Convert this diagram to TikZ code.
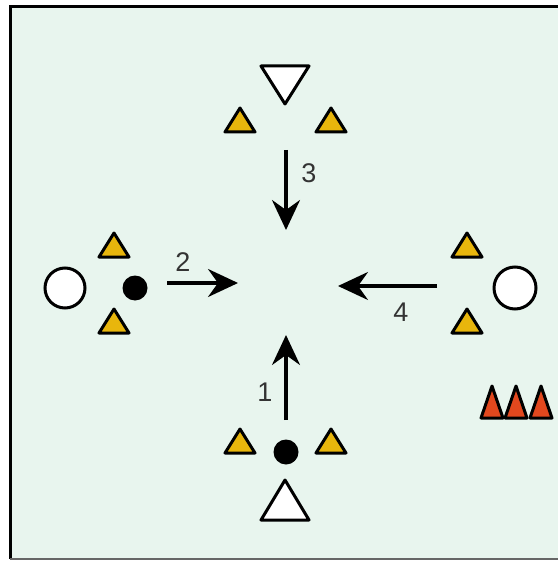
\documentclass[tikz,border=0pt]{standalone}
\usepackage{fontspec}
\setmainfont{Liberation Sans}
\usetikzlibrary{arrows.meta}
\definecolor{bgc}{HTML}{E8F5EE}
\definecolor{cone}{HTML}{E8B60C}
\definecolor{redcone}{HTML}{E2481E}
\definecolor{lbl}{HTML}{333333}
\begin{document}
\begin{tikzpicture}[x=1pt,y=-1pt,
  shapeline/.style={draw=black,line width=3pt,line join=round},
  run/.style={line width=3.2pt,-{Stealth[length=30pt,width=28pt,inset=10pt]}},
  lab/.style={text=lbl,font=\fontsize{27}{27}\selectfont,inner sep=0pt},
  pics/ycone/.style={code={\fill[cone,shapeline] (-15,12) -- (15,12) -- (0,-12) -- cycle;}},
  pics/rcone/.style={code={\fill[redcone,shapeline] (-11,16) -- (11,16) -- (0,-16) -- cycle;}}]
\useasboundingbox (0,0) rectangle (557,561);
\fill[white] (0,0) rectangle (557,561);
\fill[bgc] (10,7) rectangle (570,559);
\draw[line width=3pt] (10,559) -- (10,7) -- (570,7);
\draw[line width=1.2pt,black!60] (10,559) -- (570,559);
% top group
\fill[white,shapeline] (261,66) -- (309,66) -- (285,104) -- cycle;
\pic at (240,120) {ycone};
\pic at (331,120) {ycone};
% bottom group
\fill[white,shapeline] (285,480) -- (309,520) -- (261,520) -- cycle;
\pic at (240,441) {ycone};
\pic at (331,441) {ycone};
\node[circle,fill=black,minimum size=25pt,inner sep=0pt] (dotB) at (286,452) {};
% left group
\node[circle,fill=white,draw=black,line width=3pt,minimum size=40pt,inner sep=0pt] (cirL) at (65,288) {};
\node[circle,fill=black,minimum size=25pt,inner sep=0pt] (dotL) at (135,288) {};
\pic at (114,245) {ycone};
\pic at (114,321) {ycone};
% right group
\node[circle,fill=white,draw=black,line width=3pt,minimum size=42pt,inner sep=0pt] (cirR) at (515,288) {};
\pic at (467,245) {ycone};
\pic at (467,321) {ycone};
% red cones
\pic at (492,402) {rcone};
\pic at (516,402) {rcone};
\pic at (541,402) {rcone};
% arrows
\coordinate (a3s) at (286,150); \coordinate (a3e) at (286,230);
\coordinate (a1s) at (286,420); \coordinate (a1e) at (286,335);
\coordinate (a2s) at (167,283); \coordinate (a2e) at (238,283);
\coordinate (a4s) at (437,286); \coordinate (a4e) at (338,286);
\draw[run] (a3s) -- (a3e);
\draw[run] (a1s) -- (a1e);
\draw[run] (a2s) -- (a2e);
\draw[run] (a4s) -- (a4e);
\node[lab] (l3) at (309,173) {3};
\node[lab] (l1) at (265,392) {1};
\node[lab] (l2) at (183,262) {2};
\node[lab] (l4) at (401,312) {4};
\end{tikzpicture}
\end{document}
